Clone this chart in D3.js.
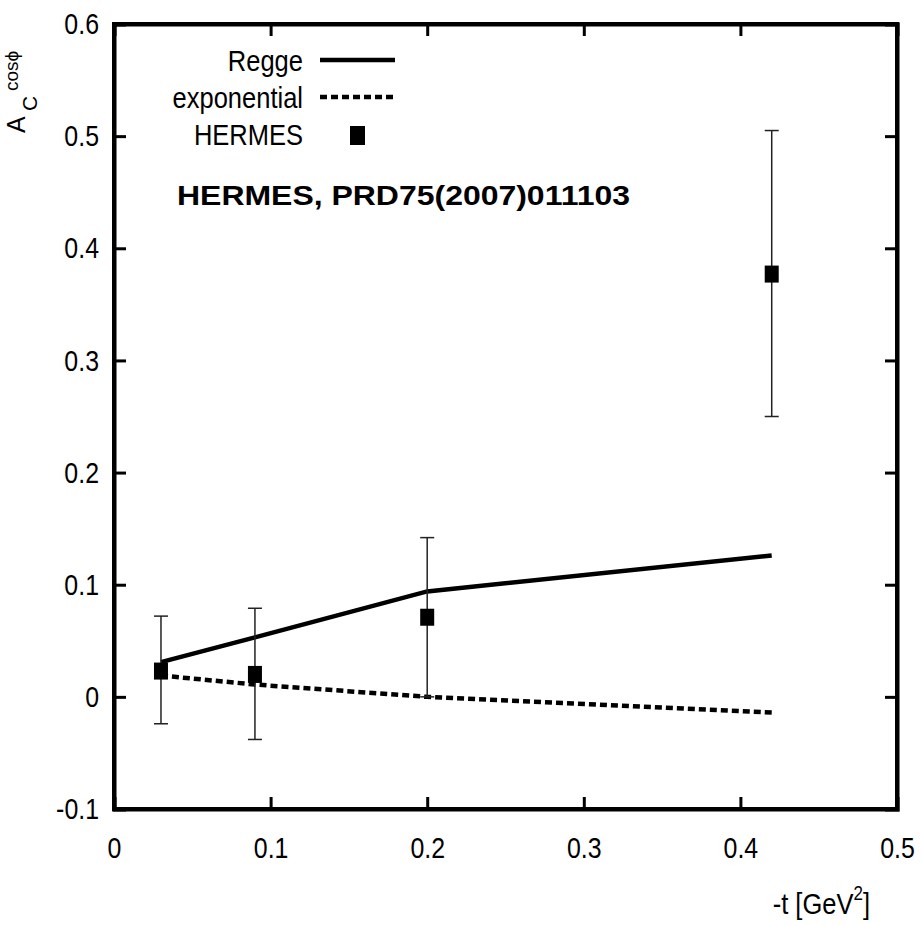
<!DOCTYPE html>
<html>
<head>
<meta charset="utf-8">
<script src="https://cdn.jsdelivr.net/npm/d3@7"></script>
<style>
  body { margin:0; background:#fff; }
  text { font-family: "Liberation Sans", Arial, sans-serif; }
</style>
</head>
<body>
<svg id="chart"></svg>
<script>
// -t values
var tVals = [0.03, 0.09, 0.2, 0.42];
// model curves
var regge = [0.031, 0.053, 0.094, 0.126];
var expo = [0.019, 0.011, 0.0, -0.014];
// HERMES data points
var hermes = [0.023, 0.020, 0.071, 0.377];
var errLo = [-0.024, -0.038, 0.0, 0.250];
var errHi = [0.072, 0.079, 0.142, 0.505];
var xTicks = [0, 0.1, 0.2, 0.3, 0.4, 0.5];
var yTicks = [-0.1, 0, 0.1, 0.2, 0.3, 0.4, 0.5, 0.6];
var legendNames = ["Regge", "exponential", "HERMES"];

var screen = { width:921, height:926 };
var margins = { top:24, bottom:117, left:114, right:24 };

var svg = d3.select("#chart")
            .attr("width", screen.width)
            .attr("height", screen.height);

var xScale = d3.scaleLinear()
               .domain([0, 0.5])
               .range([margins.left, screen.width - margins.right]);
var yScale = d3.scaleLinear()
               .domain([-0.1, 0.6])
               .range([screen.height - margins.bottom, margins.top]);

// squeeze text horizontally, the original uses a narrow face
var narrow = function(sel, f)
{
  sel.each(function(){
    var w = this.getComputedTextLength();
    d3.select(this).attr("textLength", w*f).attr("lengthAdjust", "spacingAndGlyphs");
  });
}

var fmt = function(d){ return String(d); };

// axes: ticks inside on all four sides
var xAxisB = d3.axisBottom(xScale).tickValues(xTicks).tickSize(-12).tickFormat(fmt).tickPadding(28);
var xAxisT = d3.axisTop(xScale).tickValues(xTicks).tickSize(-12).tickFormat("");
var yAxisL = d3.axisLeft(yScale).tickValues(yTicks).tickSize(-12).tickFormat(fmt).tickPadding(15);
var yAxisR = d3.axisRight(yScale).tickValues(yTicks).tickSize(-12).tickFormat("");

svg.append("g").attr("transform", "translate(0," + yScale(-0.1) + ")").call(xAxisB);
svg.append("g").attr("transform", "translate(0," + yScale(0.6) + ")").call(xAxisT);
svg.append("g").attr("transform", "translate(" + xScale(0) + ",0)").call(yAxisL);
svg.append("g").attr("transform", "translate(" + xScale(0.5) + ",0)").call(yAxisR);

svg.selectAll(".domain").attr("stroke", "#000").attr("stroke-width", 4);
svg.selectAll(".tick line").attr("stroke", "#000").attr("stroke-width", 3);
svg.selectAll(".tick text")
   .attr("fill", "#000")
   .attr("font-size", 30)
   .attr("font-family", "'Liberation Sans', Arial, sans-serif")
   .call(narrow, 0.83);

// frame box
svg.append("rect")
   .attr("x", xScale(0)).attr("y", yScale(0.6))
   .attr("width", xScale(0.5) - xScale(0))
   .attr("height", yScale(-0.1) - yScale(0.6))
   .attr("fill", "none").attr("stroke", "#000").attr("stroke-width", 4);

var line = d3.line()
             .x(function(d){ return xScale(d[0]); })
             .y(function(d){ return yScale(d[1]); });

svg.append("path")
   .datum(d3.zip(tVals, regge))
   .attr("d", line)
   .attr("fill", "none").attr("stroke", "#000").attr("stroke-width", 4.5);

svg.append("path")
   .datum(d3.zip(tVals, expo))
   .attr("d", line)
   .attr("fill", "none").attr("stroke", "#000").attr("stroke-width", 4.5)
   .attr("stroke-dasharray", "7,4");

// error bars
var pts = svg.append("g").selectAll("g")
             .data(tVals)
             .enter().append("g");

pts.append("line")
   .attr("x1", function(d){ return xScale(d); })
   .attr("x2", function(d){ return xScale(d); })
   .attr("y1", function(d,i){ return yScale(errLo[i]); })
   .attr("y2", function(d,i){ return yScale(errHi[i]); })
   .attr("stroke", "#222").attr("stroke-width", 1.5);
pts.append("line")
   .attr("x1", function(d){ return xScale(d) - 7; })
   .attr("x2", function(d){ return xScale(d) + 7; })
   .attr("y1", function(d,i){ return yScale(errLo[i]); })
   .attr("y2", function(d,i){ return yScale(errLo[i]); })
   .attr("stroke", "#222").attr("stroke-width", 1.5);
pts.append("line")
   .attr("x1", function(d){ return xScale(d) - 7; })
   .attr("x2", function(d){ return xScale(d) + 7; })
   .attr("y1", function(d,i){ return yScale(errHi[i]); })
   .attr("y2", function(d,i){ return yScale(errHi[i]); })
   .attr("stroke", "#222").attr("stroke-width", 1.5);
pts.append("rect")
   .attr("x", function(d){ return xScale(d) - 7; })
   .attr("y", function(d,i){ return yScale(hermes[i]) - 8.5; })
   .attr("width", 14).attr("height", 17)
   .attr("fill", "#000");

// legend
var legend = svg.append("g");
legend.selectAll("text")
      .data(legendNames)
      .enter().append("text")
      .attr("x", 303)
      .attr("y", function(d,i){ return 71 + i*37; })
      .attr("text-anchor", "end")
      .attr("font-size", 30)
      .text(function(d){ return d; })
      .call(narrow, 0.85);
legend.append("line")
      .attr("x1", 320).attr("x2", 395).attr("y1", 60).attr("y2", 60)
      .attr("stroke", "#000").attr("stroke-width", 4.5);
legend.append("line")
      .attr("x1", 320).attr("x2", 395).attr("y1", 97).attr("y2", 97)
      .attr("stroke", "#000").attr("stroke-width", 4.5)
      .attr("stroke-dasharray", "7,4");
legend.append("rect")
      .attr("x", 350).attr("y", 126).attr("width", 15).attr("height", 19)
      .attr("fill", "#000");

// reference note
svg.append("text")
   .attr("x", 177).attr("y", 205)
   .attr("font-weight", "bold")
   .attr("font-size", 28)
   .attr("textLength", 453)
   .attr("lengthAdjust", "spacingAndGlyphs")
   .text("HERMES, PRD75(2007)011103");

// y label A_C^cosφ (rotated)
var yl = svg.append("text")
   .attr("transform", "translate(25,133) rotate(-90)")
   .attr("font-size", 25);
yl.append("tspan").attr("x", 0).attr("y", 0).text("A");
yl.append("tspan").attr("font-size", 21).attr("x", 22).attr("y", 12).text("C");
yl.append("tspan").attr("font-size", 19).attr("x", 42).attr("y", -7).text("cosϕ");

// x label
var xl = svg.append("g")
   .attr("transform", "translate(870,914) scale(0.85,1)")
   .append("text")
   .attr("text-anchor", "end")
   .attr("font-size", 30);
xl.append("tspan").text("-t [GeV");
xl.append("tspan").attr("font-size", 20).attr("dy", -14).text("2");
xl.append("tspan").attr("dy", 14).text("]");
</script>
</body>
</html>
